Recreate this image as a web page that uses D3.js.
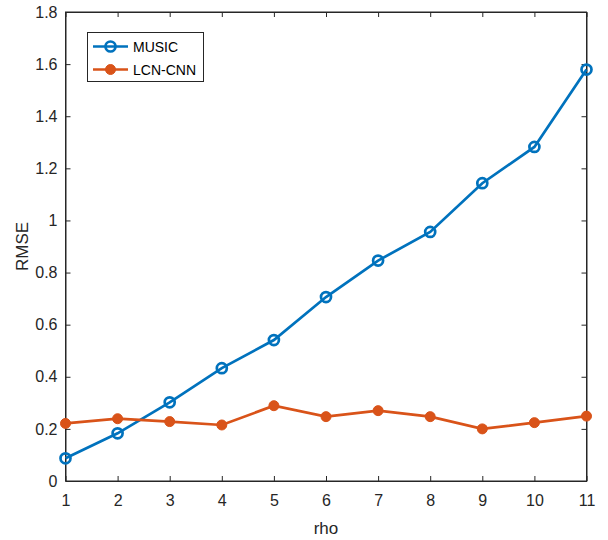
<!DOCTYPE html>
<html><head><meta charset="utf-8">
<script src="https://cdn.jsdelivr.net/npm/d3@7"></script>
<style>body{margin:0;background:#fff}</style>
</head><body>
<svg id="c" width="608" height="540"></svg>
<script>
const rho = [1,2,3,4,5,6,7,8,9,10,11];
const music = [0.087,0.183,0.302,0.433,0.541,0.706,0.846,0.956,1.143,1.282,1.579];
const lcncnn = [0.221,0.239,0.228,0.215,0.289,0.247,0.270,0.247,0.200,0.224,0.249];
const yTicks = [0,0.2,0.4,0.6,0.8,1,1.2,1.4,1.6,1.8];
const xTicks = rho;
const seriesNames = ["MUSIC","LCN-CNN"];

const svg = d3.select("#c");
const L=65.5, R=586.5, T=12, B=481;
const x = d3.scaleLinear().domain([1,11]).range([L,R]);
const y = d3.scaleLinear().domain([0,1.8]).range([B,T]);
const font = "'Liberation Sans', Arial, sans-serif";
const axisColor = "#262626";
const c1="#0072BD", c2="#D95319";

// box
svg.append("rect").attr("x",L).attr("y",T).attr("width",R-L).attr("height",B-T)
  .attr("fill","none").attr("stroke",axisColor).attr("stroke-width",1);

const gx = svg.append("g").attr("transform",`translate(0,${B})`)
  .call(d3.axisBottom(x).tickValues(xTicks).tickSizeInner(-5).tickSizeOuter(0).tickPadding(14).tickFormat(d3.format("d")));
const gxt = svg.append("g").attr("transform",`translate(0,${T})`)
  .call(d3.axisTop(x).tickValues(xTicks).tickSizeInner(-5).tickSizeOuter(0).tickFormat(""));
const gy = svg.append("g").attr("transform",`translate(${L},0)`)
  .call(d3.axisLeft(y).tickValues(yTicks).tickSizeInner(-5).tickSizeOuter(0).tickPadding(8).tickFormat(d=>d3.format("")(+d.toFixed(1))));
const gyr = svg.append("g").attr("transform",`translate(${R},0)`)
  .call(d3.axisRight(y).tickValues(yTicks).tickSizeInner(-5).tickSizeOuter(0).tickFormat(""));
[gx,gxt,gy,gyr].forEach(g=>{
  g.select(".domain").attr("stroke",axisColor);
  g.selectAll(".tick line").attr("stroke",axisColor);
  g.selectAll("text").attr("fill","#262626").style("font-family",font).style("font-size","16px");
});

const line = d3.line().x((d,i)=>x(rho[i])).y(d=>y(d));
svg.append("path").datum(music).attr("d",line).attr("fill","none").attr("stroke",c1).attr("stroke-width",2.7);
svg.append("path").datum(lcncnn).attr("d",line).attr("fill","none").attr("stroke",c2).attr("stroke-width",2.7);
svg.selectAll(".m1").data(music).enter().append("circle")
  .attr("cx",(d,i)=>x(rho[i])).attr("cy",d=>y(d)).attr("r",5)
  .attr("fill","none").attr("stroke",c1).attr("stroke-width",2.7);
svg.selectAll(".m2").data(lcncnn).enter().append("circle")
  .attr("cx",(d,i)=>x(rho[i])).attr("cy",d=>y(d)).attr("r",5)
  .attr("fill",c2).attr("stroke",c2).attr("stroke-width",1);

// labels
svg.append("text").attr("x",(L+R)/2).attr("y",534).attr("text-anchor","middle")
  .style("font-family",font).style("font-size","17px").attr("fill","#262626").text("rho");
svg.append("text").attr("transform",`translate(28,${(T+B)/2}) rotate(-90)`).attr("text-anchor","middle")
  .style("font-family",font).style("font-size","17px").attr("fill","#262626").text("RMSE");

// legend
const lg = svg.append("g");
lg.append("rect").attr("x",87.5).attr("y",32.5).attr("width",116).attr("height",49)
  .attr("fill","#fff").attr("stroke",axisColor).attr("stroke-width",1);
const cols=[c1,c2];
seriesNames.forEach((n,i)=>{
  const yy = 46.5 + i*23;
  lg.append("line").attr("x1",93).attr("x2",128).attr("y1",yy).attr("y2",yy).attr("stroke",cols[i]).attr("stroke-width",2.7);
  lg.append("circle").attr("cx",110.5).attr("cy",yy).attr("r",5)
    .attr("fill",i==0?"none":c2).attr("stroke",cols[i]).attr("stroke-width",i==0?2.7:1);
  lg.append("text").attr("x",133).attr("y",yy+5).style("font-family",font).style("font-size","14px")
    .attr("fill","#000").text(n);
});
</script>
</body></html>
